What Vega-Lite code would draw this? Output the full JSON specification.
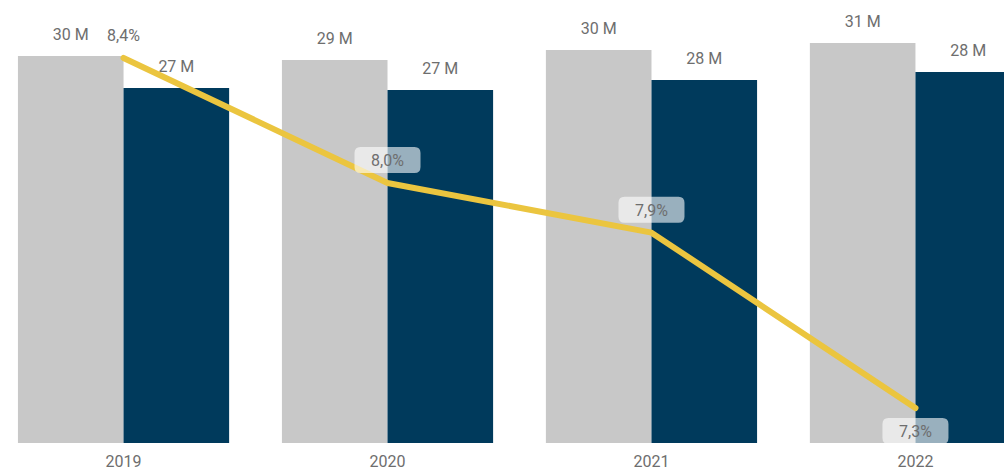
{
  "$schema": "https://vega.github.io/schema/vega-lite/v6.json",
  "width": 1004,
  "height": 443,
  "autosize": {"type": "none"},
  "padding": {"left": 0, "top": 0, "right": 0, "bottom": 28},
  "datasets": {
    "bars": [
      {"year": "2019", "series": "Serie 1", "value": 29.66},
      {"year": "2019", "series": "Serie 2", "value": 27.2},
      {"year": "2020", "series": "Serie 1", "value": 29.35},
      {"year": "2020", "series": "Serie 2", "value": 27.05},
      {"year": "2021", "series": "Serie 1", "value": 30.11},
      {"year": "2021", "series": "Serie 2", "value": 27.82},
      {"year": "2022", "series": "Serie 1", "value": 30.65},
      {"year": "2022", "series": "Serie 2", "value": 28.43}
    ],
    "rate": [
      {"year": "2019", "rate": 0.084, "pos": "above"},
      {"year": "2020", "rate": 0.08007, "pos": "above"},
      {"year": "2021", "rate": 0.07851, "pos": "above"},
      {"year": "2022", "rate": 0.073, "pos": "below"}
    ]
  },
  "layer": [
    {
      "data": {"name": "bars"},
      "layer": [
        {
          "mark": {"type": "bar", "clip": true},
          "encoding": {
            "color": {"field": "series", "type": "nominal", "scale": {"range": ["#C8C8C8", "#003A5C"]}, "legend": null}
          }
        },
        {
          "mark": {
            "type": "point",
            "shape": "M-0.818,-1.061L0.818,-1.061Q1,-1.061,1,-0.879L1,-0.455Q1,-0.273,0.818,-0.273L-0.818,-0.273Q-1,-0.273,-1,-0.455L-1,-0.879Q-1,-1.061,-0.818,-1.061Z",
            "size": 4356,
            "filled": true,
            "fill": "#FFFFFF",
            "fillOpacity": 0.6,
            "strokeWidth": 0,
            "opacity": 1
          },
          "encoding": {}
        },
        {
          "mark": {"type": "text", "font": "Roboto", "fontSize": 16, "color": "#6E6E6E", "baseline": "middle", "dy": -21},
          "encoding": {
            "text": {"field": "value", "type": "quantitative", "format": "$.0f"}
          }
        }
      ],
      "encoding": {
        "x": {
          "field": "year", "type": "nominal",
          "scale": {"type": "band", "range": [0, 1039], "paddingInner": 0.2, "paddingOuter": 0.068},
          "axis": {"domain": false, "ticks": false, "labelPadding": 10, "labelFontSize": 16, "labelFont": "Roboto", "labelColor": "#6E6E6E", "labelAngle": 0, "title": null, "grid": false}
        },
        "xOffset": {"field": "series", "type": "nominal", "scale": {"paddingInner": 0, "paddingOuter": 0}},
        "y": {"field": "value", "type": "quantitative", "scale": {"domain": [0, 33.95], "nice": false, "zero": true}, "axis": null}
      }
    },
    {
      "data": {"name": "rate"},
      "layer": [
        {
          "mark": {"type": "line", "color": "#EBC53F", "strokeWidth": 6, "strokeCap": "round", "strokeJoin": "round"},
          "encoding": {}
        },
        {
          "transform": [{"filter": "datum.pos == 'above'"}],
          "layer": [
            {
              "mark": {
                "type": "point",
                "shape": "M-0.818,-1.091L0.818,-1.091Q1,-1.091,1,-0.909L1,-0.485Q1,-0.303,0.818,-0.303L-0.818,-0.303Q-1,-0.303,-1,-0.485L-1,-0.909Q-1,-1.091,-0.818,-1.091Z",
                "size": 4356,
                "filled": true,
                "fill": "#FFFFFF",
                "fillOpacity": 0.6,
                "strokeWidth": 0,
                "opacity": 1
              },
              "encoding": {}
            },
            {
              "mark": {"type": "text", "font": "Roboto", "fontSize": 16, "color": "#6E6E6E", "baseline": "middle", "dy": -22},
              "encoding": {"text": {"field": "rate", "type": "quantitative", "format": ".1%"}}
            }
          ]
        },
        {
          "transform": [{"filter": "datum.pos == 'below'"}],
          "layer": [
            {
              "mark": {
                "type": "point",
                "shape": "M-0.818,0.303L0.818,0.303Q1,0.303,1,0.485L1,0.909Q1,1.091,0.818,1.091L-0.818,1.091Q-1,1.091,-1,0.909L-1,0.485Q-1,0.303,-0.818,0.303Z",
                "size": 4356,
                "filled": true,
                "fill": "#FFFFFF",
                "fillOpacity": 0.6,
                "strokeWidth": 0,
                "opacity": 1
              },
              "encoding": {}
            },
            {
              "mark": {"type": "text", "font": "Roboto", "fontSize": 16, "color": "#6E6E6E", "baseline": "middle", "dy": 24},
              "encoding": {"text": {"field": "rate", "type": "quantitative", "format": ".1%"}}
            }
          ]
        }
      ],
      "encoding": {
        "x": {
          "field": "year", "type": "nominal",
          "scale": {"type": "band", "range": [0, 1039], "paddingInner": 0.2, "paddingOuter": 0.068},
          "axis": {"domain": false, "ticks": false, "labelPadding": 10, "labelFontSize": 16, "labelFont": "Roboto", "labelColor": "#6E6E6E", "labelAngle": 0, "title": null, "grid": false}
        },
        "y": {"field": "rate", "type": "quantitative", "scale": {"domain": [0.0719, 0.08582], "nice": false, "zero": false}, "axis": null}
      }
    }
  ],
  "resolve": {"scale": {"y": "independent"}},
  "config": {
    "view": {"stroke": null},
    "locale": {"number": {"decimal": ",", "thousands": ".", "grouping": [3], "currency": ["", " M"]}}
  }
}
